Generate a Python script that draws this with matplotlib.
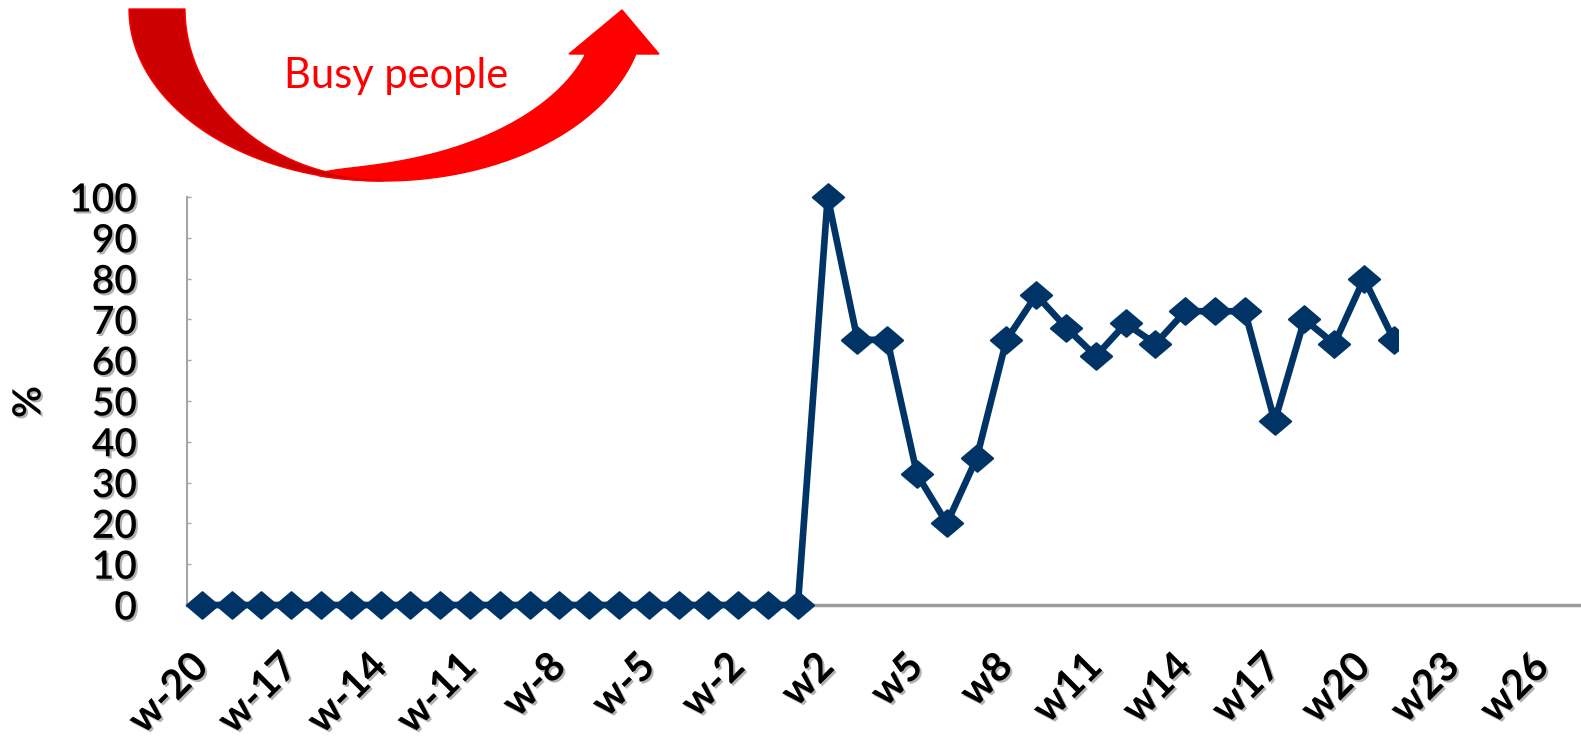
import numpy as np
import matplotlib.pyplot as plt
import matplotlib.patheffects as pe
from matplotlib.path import Path
from matplotlib.patches import Polygon, Rectangle

weeks = ['w-20', 'w-19', 'w-18', 'w-17', 'w-16', 'w-15', 'w-14', 'w-13', 'w-12', 'w-11',
         'w-10', 'w-9', 'w-8', 'w-7', 'w-6', 'w-5', 'w-4', 'w-3', 'w-2', 'w-1',
         'w1', 'w2', 'w3', 'w4', 'w5', 'w6', 'w7', 'w8', 'w9', 'w10',
         'w11', 'w12', 'w13', 'w14', 'w15', 'w16', 'w17', 'w18', 'w19', 'w20',
         'w21', 'w22', 'w23', 'w24', 'w25', 'w26']

pct = [0, 0, 0, 0, 0, 0, 0, 0, 0, 0,
       0, 0, 0, 0, 0, 0, 0, 0, 0, 0,
       0, 100, 65, 65, 32, 20, 36, 65, 76, 68,
       61, 69, 64, 72, 72, 72, 45, 70, 64, 80,
       65]

yticks = [0, 10, 20, 30, 40, 50, 60, 70, 80, 90, 100]

navy = '#003466'
W, H = 1581, 739

plt.rcParams['font.family'] = ['Lato', 'DejaVu Sans']
shadow = [pe.withSimplePatchShadow(offset=(1.5, -1.5), shadow_rgbFace='#7f7f7f', alpha=0.6)]

fig = plt.figure(figsize=(W / 100, H / 100), dpi=100)
ax = fig.add_axes([187 / W, 134 / H, 1 - 187 / W, 408 / H])

# flattened diamond marker
diamond = Path([(-1, 0), (0, 0.85), (1, 0), (0, -0.85), (-1, 0)],
               [Path.MOVETO, Path.LINETO, Path.LINETO, Path.LINETO, Path.CLOSEPOLY])

x = np.arange(len(pct))
line, = ax.plot(x, pct, color=navy, lw=4.8, marker=diamond, ms=22.5,
                mfc=navy, mec=navy, mew=1.5, solid_joinstyle='round', zorder=5)
# series is cut off just past w21
clip = Rectangle((-1, -20), 41.14, 140, transform=ax.transData)
line.set_clip_path(clip)

ax.set_xlim(-0.5, 46.28)
ax.set_ylim(0, 100)

ax.set_xticks(range(0, len(weeks), 3))
ax.set_xticklabels(weeks[::3], rotation=45, rotation_mode='anchor', ha='right',
                   va='center', fontsize=29, fontweight='bold', path_effects=shadow)
ax.set_yticks(yticks)
ax.set_yticklabels([str(v) for v in yticks], fontsize=28, fontweight='semibold',
                   path_effects=shadow)

ax.tick_params(axis='x', length=0, pad=40)
ax.tick_params(axis='y', direction='in', length=3, width=1, color='#A6A6A6', pad=36)

for s in ['top', 'right']:
    ax.spines[s].set_visible(False)
ax.spines['left'].set_color('#A6A6A6')
ax.spines['left'].set_linewidth(1.5)
ax.spines['bottom'].set_color('#9C9C9C')
ax.spines['bottom'].set_linewidth(2.5)

fig.text(29 / W, 1 - 402 / H, '%', rotation=90, fontsize=28, fontweight='bold',
         ha='center', va='center', path_effects=shadow)

# curved arrow overlay in pixel coordinates
ov = fig.add_axes([0, 0, 1, 1], zorder=-1)
ov.set_xlim(0, W)
ov.set_ylim(H, 0)
ov.axis('off')

cx, cy = 383, 9
t = np.linspace(0, np.pi / 2, 80)
outer_l = np.column_stack([cx - 254 * np.cos(t), cy + 172 * np.sin(t)])
inner_l = np.column_stack([cx - 198 * np.cos(t), cy + 170 * np.sin(t)])
dark = np.vstack([outer_l, inner_l[::-1]])

# right half: lower edge on an ellipse, band widening towards the head
a, b = 262, 172
s0, s1 = np.pi / 2 + 0.25, np.arcsin(45 / b)
s = np.linspace(s0, s1, 120)
lower_r = np.column_stack([cx + a * np.cos(s), cy + b * np.sin(s)])
nrm = np.column_stack([np.cos(s) / a, np.sin(s) / b])
nrm /= np.linalg.norm(nrm, axis=1, keepdims=True)
width = 47 * ((s0 - s) / (s0 - s1)) ** 0.55
upper_r = lower_r - nrm * width[:, None]
upper_r[-1] = [591, 54]
head = np.array([[659, 54], [622, 10], [569, 54]])
bright = np.vstack([lower_r, head, upper_r[::-1]])

ov.add_patch(Polygon(bright, closed=True, fc='#FF0000', ec='#FF0000', lw=1))
ov.add_patch(Polygon(dark, closed=True, fc='#CC0000', ec='#FF0000', lw=1))
ov.text(396, 76, 'Busy people', color='#FF0000', fontsize=30, ha='center', va='center')

fig.savefig('out.png', dpi=100)
